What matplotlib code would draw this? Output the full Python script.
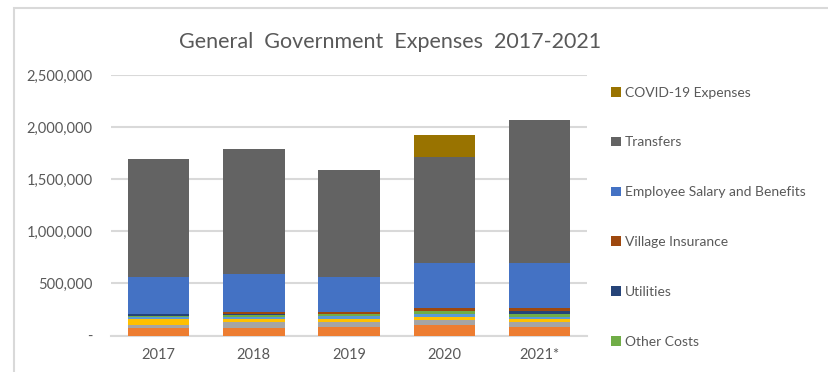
import matplotlib.pyplot as plt
import numpy as np
from matplotlib.patches import Rectangle, Patch

plt.rcParams['font.family'] = ['Lato', 'DejaVu Sans']

years = ['2017', '2018', '2019', '2020', '2021*']

# stacked from the bottom up (values in dollars)
series_a = [75000, 75000, 80000, 103000, 79000]      # orange
series_b = [26000, 55000, 48000, 48000, 51000]      # grey
series_c = [55000, 26000, 29000, 29000, 29000]      # gold
series_d = [25000, 19000, 26000, 29000, 22000]      # light blue
other_costs = [10000, 25000, 22000, 29000, 23000]
utilities = [19000, 3000, 0, 0, 29000]
village_insurance = [0, 22000, 22000, 23000, 29000]
salary = [352000, 361000, 335000, 431000, 431000]
transfers = [1128000, 1200000, 1022000, 1018000, 1379000]
covid = [0, 0, 0, 211000, 0]

stack = [
    (series_a, '#ED7D31', None),
    (series_b, '#A5A5A5', None),
    (series_c, '#FFC000', None),
    (series_d, '#5B9BD5', None),
    (other_costs, '#70AD47', 'Other Costs'),
    (utilities, '#264478', 'Utilities'),
    (village_insurance, '#9E480E', 'Village Insurance'),
    (salary, '#4472C4', 'Employee Salary and Benefits'),
    (transfers, '#636363', 'Transfers'),
    (covid, '#997300', 'COVID-19 Expenses'),
]

txt = '#595959'
grid = '#D9D9D9'

fig = plt.figure(figsize=(8.29, 3.72), dpi=100)
ax = fig.add_axes([0.1337, 0.0981, 0.5748, 0.7003])

x = np.arange(len(years))
bottom = np.zeros(len(years))
handles = []
for vals, col, name in stack:
    vals = np.array(vals, dtype=float)
    ax.bar(x, vals, 0.645, bottom=bottom, color=col, linewidth=0, zorder=3)
    bottom += vals
    if name:
        handles.append(Patch(facecolor=col, label=name))

ax.set_xlim(-0.5, len(years) - 0.5)
ax.set_ylim(0, 2500000)
ax.set_yticks(np.arange(0, 2500001, 500000))
ax.set_yticklabels(['-'] + [f'{v:,}' for v in range(500000, 2500001, 500000)])
ax.set_xticks(x)
ax.set_xticklabels(years)
ax.tick_params(length=0, colors=txt, labelsize=10.5)
ax.tick_params(axis='y', pad=13)
ax.tick_params(axis='x', pad=9)
ax.grid(axis='y', color=grid, linewidth=1.5, zorder=0)
for s in ['top', 'right', 'left']:
    ax.spines[s].set_visible(False)
ax.spines['bottom'].set_color(grid)
ax.spines['bottom'].set_linewidth(1.5)

fig.text(0.471, 0.887, 'General  Government  Expenses  2017-2021', ha='center',
         va='center', fontsize=15.5, color=txt)

leg = fig.legend(handles=handles[::-1], loc='upper left', bbox_to_anchor=(0.737, 0.767),
                 frameon=False, fontsize=10, labelcolor=txt, handlelength=0.7,
                 handleheight=0.7, handletextpad=0.3, labelspacing=2.72,
                 borderaxespad=0, borderpad=0)

# chart area frame
fig.add_artist(Rectangle((14 / 829, -0.1), 1.0, 1 - 8 / 372 + 0.1,
                         transform=fig.transFigure, fill=False,
                         edgecolor=grid, linewidth=1.5))

fig.savefig('out.png', dpi=100)
